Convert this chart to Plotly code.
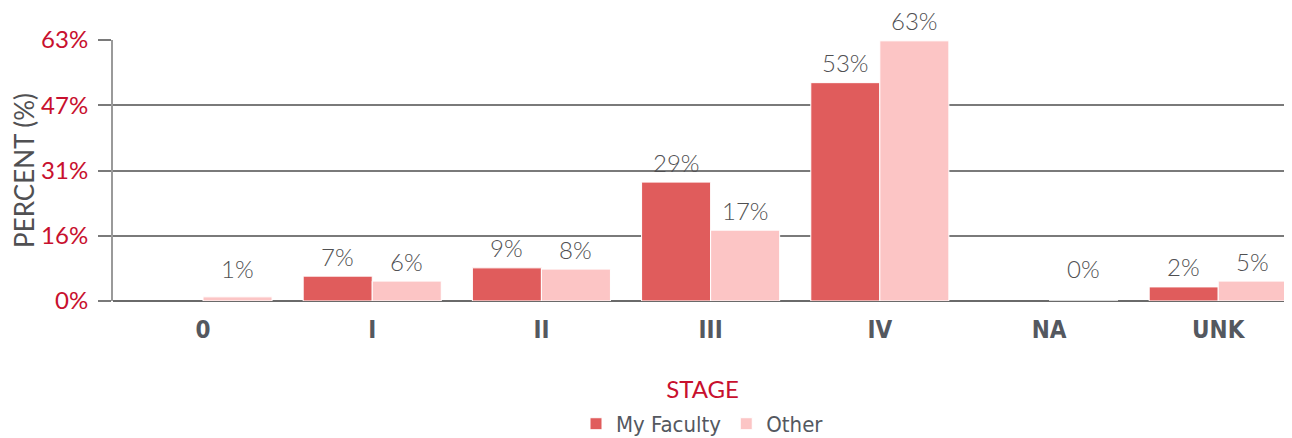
import plotly.graph_objects as go

# DATA
stages = ["0", "I", "II", "III", "IV", "NA", "UNK"]
my_faculty = [None, 6.0, 8.0, 28.7, 52.7, None, 3.4]
other = [1.0, 4.8, 7.7, 17.1, 62.8, 0.0, 4.8]
my_faculty_labels = ["", "7%", "9%", "29%", "53%", "", "2%"]
other_labels = ["1%", "6%", "8%", "17%", "63%", "0%", "5%"]
y_ticks = [0, 15.75, 31.5, 47.25, 63]
y_tick_labels = ["0%", "16%", "31%", "47%", "63%"]

RED = "#c8102e"
GREY = "#54585f"
LABEL_GREY = "#505052"

fig = go.Figure()

fig.add_trace(go.Bar(
    x=stages, y=my_faculty, name="My Faculty",
    marker=dict(color="#e05c5c", line=dict(color="white", width=1)),
))
fig.add_trace(go.Bar(
    x=stages, y=other, name="Other",
    marker=dict(color="#fcc5c5", line=dict(color="white", width=1)),
))

# value labels above each bar
for values, labels, shift in [(my_faculty, my_faculty_labels, -34.5), (other, other_labels, 34.5)]:
    for cat, v, lab in zip(stages, values, labels):
        if v is None or lab == "":
            continue
        fig.add_annotation(
            x=cat, y=max(v, 3), text=lab, showarrow=False,
            xshift=shift, yshift=20, yanchor="middle", borderpad=0,
            font=dict(family="Lato", size=24, color=LABEL_GREY, weight=300),
        )

# page body has an 8px margin, so the figure is sized/offset to match
fig.update_layout(
    width=1284, height=430,
    margin=dict(l=105, r=0, t=32, b=137, autoexpand=False),
    paper_bgcolor="white", plot_bgcolor="white",
    barmode="group", bargap=0.184, bargroupgap=0,
    showlegend=True,
    legend=dict(
        orientation="h", x=0.5, xanchor="center", y=-0.471, yanchor="middle",
        font=dict(family="DejaVu Sans Condensed", size=22, color=GREY),
        itemwidth=30, traceorder="normal",
    ),
    xaxis=dict(
        automargin=False,
        range=[-0.532, 6.436],
        tickfont=dict(family="DejaVu Sans Condensed", size=24, color=GREY, weight="bold"),
        ticklabelstandoff=12,
        title=dict(text="STAGE", font=dict(family="Lato", size=24, color=RED), standoff=38),
        showline=False, ticks="",
    ),
    yaxis=dict(
        automargin=False,
        range=[0, 63], tickvals=y_ticks, ticktext=y_tick_labels,
        tickfont=dict(family="Lato", size=24, color=RED),
        title=dict(text="PERCENT (%)", font=dict(family="Lato", size=26, color=LABEL_GREY), standoff=6),
        showgrid=True, gridcolor="#7a7a7a", gridwidth=1.5,
        zeroline=True, zerolinecolor="#6a6a6a", zerolinewidth=2,
        showline=True, linecolor="#9a9a9a", linewidth=2,
        ticks="outside", ticklen=13, tickcolor="#7a7a7a", tickwidth=1.5,
        ticklabelstandoff=5,
    ),
)

fig.write_html("out.html")
